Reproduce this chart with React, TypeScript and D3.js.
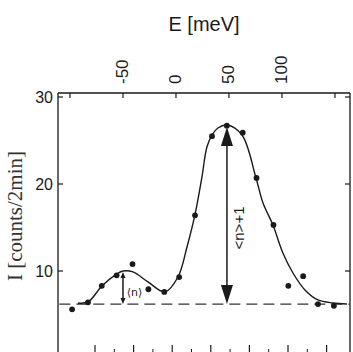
import * as d3 from "d3";

// measured points
const energies = [-98, -83, -70, -56, -41, -26, -11, 3, 18, 34, 48, 63, 76, 92, 106, 120, 134, 149];
const counts = [5.6, 6.4, 8.3, 9.5, 10.8, 7.9, 7.6, 9.3, 16.4, 25.5, 26.7, 25.9, 20.7, 15.3, 8.3, 9.4, 6.2, 6.0];

// fitted curve
const fitEnergies = [-92.5, -83, -69.8, -55.7, -50, -40.6, -26.4, -10.4, 1.9, 10.4, 17.9, 24.5, 29.2, 34, 39.6, 48.1, 62.3, 75.5, 82.1, 91.5, 100.9, 110.4, 121.7, 134, 148.1, 161.3];
const fitCounts = [6.32, 6.44, 8.28, 9.66, 10.0, 9.89, 8.74, 7.59, 9.31, 12.76, 16.44, 20.8, 24.25, 25.63, 26.44, 26.78, 25.63, 20.69, 17.82, 15.29, 12.07, 9.77, 7.82, 6.67, 6.32, 6.21];

const background = 6.2;
const peakEnergies = [-50, 48.1];
const peakCounts = [10.0, 26.78];

const topTicks = [-100, -50, 0, 50, 100, 150];
const topLabels = [-50, 0, 50, 100];
const yTicks = [10, 20, 30];
const bottomTicks = [0, 1, 2, 3, 4, 5, 6];

const W = 353;
const H = 352;
const left = 58, right = 350, top = 93, bottom = 354;

export default function App() {
  const x = d3.scaleLinear().domain([-111.3, 164.2]).range([left, right]);
  const y = d3.scaleLinear().domain([0.46, 30.46]).range([bottom, top]);
  const xb = d3.scaleLinear().domain([0, 6]).range([95, 326.6]);

  const fit = fitEnergies.map((e, i) => [e, fitCounts[i]] as [number, number]);
  const line = d3.line<[number, number]>()
    .x((d) => x(d[0]))
    .y((d) => y(d[1]))
    .curve(d3.curveCatmullRom.alpha(0.5));

  const minor = d3.range(0, 6.5, 0.5).filter((v) => v % 1 !== 0);
  const ink = "#1a1a1a";

  const arrowHead = (cx: number, tipY: number, dir: number, w: number, len: number) =>
    `M${cx},${tipY} L${cx - w / 2},${tipY + dir * len} L${cx + w / 2},${tipY + dir * len} Z`;

  const big = { x: x(peakEnergies[1]), top: y(peakCounts[1]) + 2, base: y(background) };
  const small = { x: x(peakEnergies[0]), top: y(peakCounts[0]) + 1, base: y(background) };

  return (
    <svg width={W} height={H} style={{ position: "absolute", left: 0, top: 0, background: "#fff" }}
      fontFamily="'Liberation Sans', Arial, sans-serif">
      {/* title */}
      <text x={204} y={31} fontSize={20} textAnchor="middle" fill={ink}>E [meV]</text>

      {/* frame */}
      <g stroke={ink} strokeWidth={1.3} fill="none">
        <line x1={left} y1={top} x2={right} y2={top} />
        <line x1={left} y1={top} x2={left} y2={bottom} />
        <line x1={right} y1={top} x2={right} y2={bottom} />
      </g>

      {/* top axis */}
      {topTicks.map((t) => (
        <line key={"tt" + t} x1={x(t)} x2={x(t)} y1={top} y2={top + 5} stroke={ink} strokeWidth={1.2} />
      ))}
      {topLabels.map((t) => (
        <text key={"tl" + t} transform={`translate(${x(t)},84) rotate(-90)`} fontSize={17}
          dominantBaseline="central" textAnchor="start" fill={ink}>{t < 0 ? "-" + Math.abs(t) : t}</text>
      ))}

      {/* y axes */}
      {yTicks.map((t) => (
        <g key={"yt" + t}>
          <line x1={left} x2={left + 5} y1={y(t)} y2={y(t)} stroke={ink} strokeWidth={1.2} />
          <line x1={right - 5} x2={right} y1={y(t)} y2={y(t)} stroke={ink} strokeWidth={1.2} />
          <text x={53} y={y(t)} fontSize={16} textAnchor="end" dominantBaseline="central" fill={ink}>{t}</text>
        </g>
      ))}

      {/* bottom ticks */}
      {bottomTicks.map((t) => (
        <line key={"bt" + t} x1={xb(t)} x2={xb(t)} y1={H} y2={H - 7} stroke={ink} strokeWidth={1.2} />
      ))}
      {minor.map((t) => (
        <line key={"bm" + t} x1={xb(t)} x2={xb(t)} y1={H} y2={H - 3} stroke={ink} strokeWidth={1} />
      ))}

      {/* y label */}
      <text transform="translate(22,216) rotate(-90)" fontSize={21} textAnchor="middle"
        fontFamily="'Liberation Serif', 'Times New Roman', serif" fill="#333">I [counts/2min]</text>

      {/* background level */}
      <line x1={x(-110)} x2={right} y1={y(background)} y2={y(background)} stroke="#333"
        strokeWidth={1.2} strokeDasharray="11 6" />

      {/* fit */}
      <path d={line(fit) ?? ""} fill="none" stroke={ink} strokeWidth={1.4} />

      {/* data */}
      {energies.map((e, i) => (
        <circle key={"p" + i} cx={x(e)} cy={y(counts[i])} r={2.9} fill={ink} />
      ))}

      {/* big arrow */}
      <line x1={big.x} x2={big.x} y1={big.top + 10} y2={big.base - 10} stroke={ink} strokeWidth={1.5} />
      <path d={arrowHead(big.x, big.top, 1, 12, 19)} fill={ink} />
      <path d={arrowHead(big.x, big.base, -1, 12, 19)} fill={ink} />
      <text transform={`translate(238,228) rotate(-90)`} fontSize={15} textAnchor="middle"
        dominantBaseline="central" fill={ink}>{"<n>+1"}</text>

      {/* small arrow */}
      <line x1={small.x} x2={small.x} y1={small.top + 3} y2={small.base - 3} stroke={ink} strokeWidth={1.5} />
      <path d={arrowHead(small.x, small.top, 1, 5, 6)} fill={ink} />
      <path d={arrowHead(small.x, small.base, -1, 5, 6)} fill={ink} />
      <text x={134.5} y={292} fontSize={11} textAnchor="middle" dominantBaseline="central"
        fontFamily="'DejaVu Sans', sans-serif" fill={ink}>{"⟨n⟩"}</text>
    </svg>
  );
}
